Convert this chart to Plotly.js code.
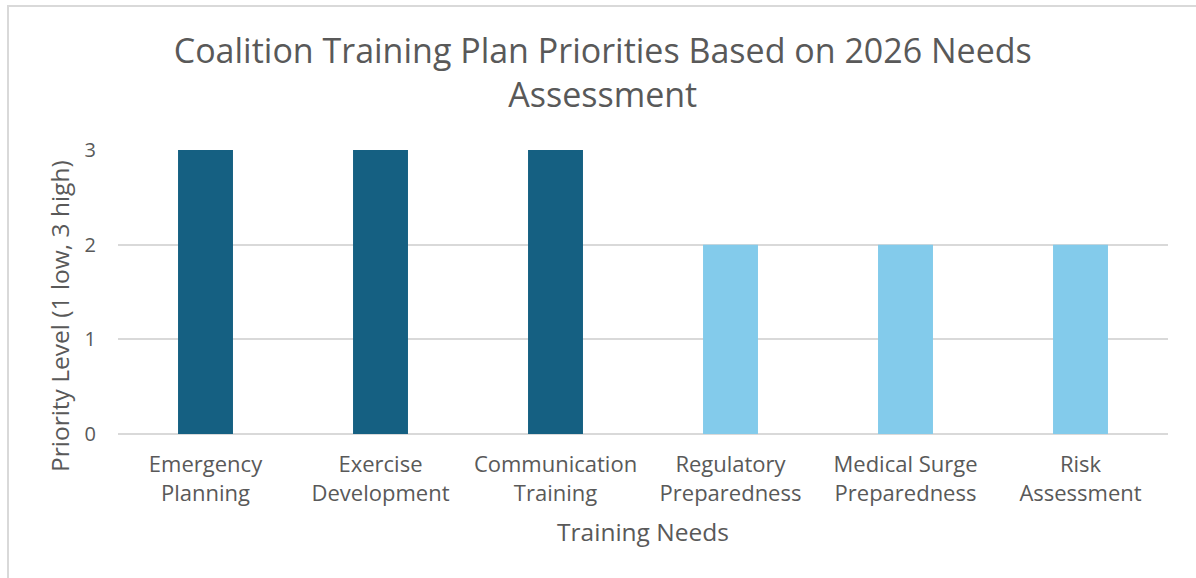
<!DOCTYPE html>
<html>
<head>
<meta charset="utf-8">
<script src="https://cdn.plot.ly/plotly-3.0.1.min.js"></script>
<style>
  html, body { margin: 0; padding: 0; background: #fff; }
  #wrap { position: relative; width: 1196px; height: 578px; overflow: hidden; }
  #chart { width: 1196px; height: 578px; }
  #frame { position: absolute; left: 7px; top: 5px; width: 1300px; height: 700px;
           border-left: 2px solid #d9d9d9; border-top: 2px solid #d9d9d9; pointer-events: none; }
</style>
</head>
<body>
<div id="wrap">
  <div id="chart"></div>
  <div id="frame"></div>
</div>
<script>
const categories = [
  "Emergency<br>Planning",
  "Exercise<br>Development",
  "Communication<br>Training",
  "Regulatory<br>Preparedness",
  "Medical Surge<br>Preparedness",
  "Risk<br>Assessment"
];
const priorityLevels = [3, 3, 3, 2, 2, 2];
const yTickValues = [0, 1, 2, 3];
const chartTitle = "Coalition Training Plan Priorities Based on 2026 Needs<br>Assessment";
const xTitle = "Training Needs";
const yTitle = "Priority Level (1 low, 3 high)";

const HIGH = "#156082", MID = "#83CBEB";
const barColors = priorityLevels.map(v => v >= 3 ? HIGH : MID);
const FONT = "Open Sans, sans-serif";
const TXT = "#595959";

const data = [{
  type: "bar",
  x: categories,
  y: priorityLevels,
  marker: { color: barColors, line: { width: 0 } },
  hoverinfo: "x+y"
}];

const layout = {
  width: 1196, height: 578,
  margin: { l: 118, r: 28, t: 150, b: 144 },
  paper_bgcolor: "rgba(0,0,0,0)",
  plot_bgcolor: "rgba(0,0,0,0)",
  bargap: 0.686,
  showlegend: false,
  font: { family: FONT, color: TXT },
  title: {
    text: chartTitle,
    font: { family: FONT, size: 34, color: TXT },
    x: 0.504, xref: "container", xanchor: "center",
    y: 0.891, yref: "container", yanchor: "middle"
  },
  xaxis: {
    type: "category",
    tickfont: { size: 22, color: TXT, family: FONT },
    ticks: "", ticklabelstandoff: 15,
    showgrid: false, zeroline: false, showline: false,
    title: { text: xTitle, font: { size: 24.5, color: TXT, family: FONT }, standoff: 18 },
    automargin: false, fixedrange: true
  },
  yaxis: {
    range: [0, 3],
    tickvals: yTickValues,
    tickfont: { size: 20, color: TXT, family: FONT },
    ticks: "", ticklabelstandoff: 21,
    showgrid: true, gridcolor: "#d9d9d9", gridwidth: 2,
    zeroline: true, zerolinecolor: "#d9d9d9", zerolinewidth: 2,
    showline: false,
    automargin: false, fixedrange: true
  },
  annotations: [{
    text: yTitle,
    xref: "paper", yref: "paper",
    x: -0.0552, y: 0.4155,
    xanchor: "center", yanchor: "middle",
    textangle: -90, showarrow: false,
    font: { size: 24.5, color: TXT, family: FONT }
  }]
};

Plotly.newPlot("chart", data, layout, { displayModeBar: false, staticPlot: true });
</script>
</body>
</html>
